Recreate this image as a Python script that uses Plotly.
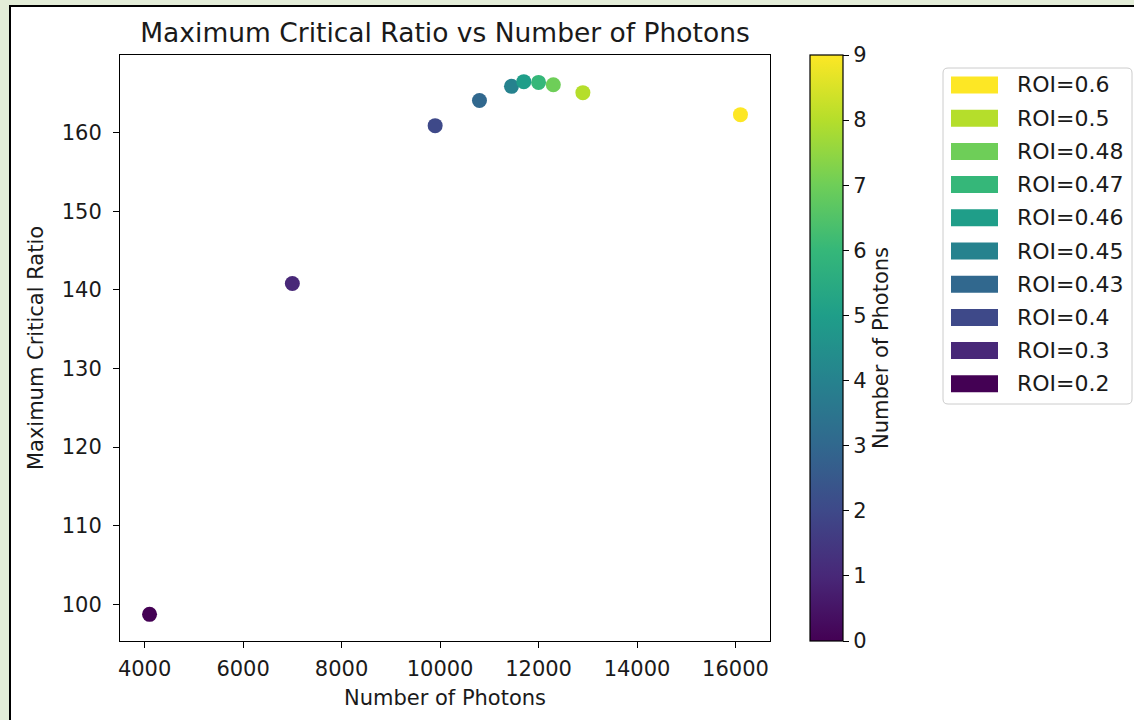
import plotly.graph_objects as go
import plotly.colors as pc

# ---- data ----
roi_labels = ["0.2", "0.3", "0.4", "0.43", "0.45", "0.46", "0.47", "0.48", "0.5", "0.6"]
photons = [4100, 7000, 9900, 10800, 11450, 11700, 12000, 12300, 12900, 16100]
max_ratio = [98.7, 140.8, 160.9, 164.1, 165.9, 166.5, 166.4, 166.1, 165.1, 162.3]
color_values = [0, 1, 2, 3, 4, 5, 6, 7, 8, 9]
x_ticks = [4000, 6000, 8000, 10000, 12000, 14000, 16000]
y_ticks = [100, 110, 120, 130, 140, 150, 160]
cbar_ticks = [0, 1, 2, 3, 4, 5, 6, 7, 8, 9]

W, H = 1134, 720
L, R, T, B = 120, 770, 55, 641
FONT = "DejaVu Sans"
TXT = "#1a1a1a"
FS = 21

def px(x):
    return (x - L) / (R - L)

def py(y):
    return (B - y) / (B - T)

def pad(vals, f=0.05):
    lo, hi = min(vals), max(vals)
    s = hi - lo
    return [lo - f * s, hi + f * s]

fig = go.Figure()
fig.add_trace(go.Scatter(
    x=photons, y=max_ratio, mode="markers", showlegend=False,
    marker=dict(
        size=15, color=color_values, colorscale="Viridis", cmin=0, cmax=9,
        line=dict(width=0),
        showscale=True,
        colorbar=dict(
            x=px(810), xanchor="left", xpad=0, ypad=0,
            y=0.5, yanchor="middle", len=1, lenmode="fraction",
            thickness=33, thicknessmode="pixels",
            outlinewidth=1.2, outlinecolor="black",
            tickvals=cbar_ticks, ticks="outside", ticklen=6, tickcolor="black",
            tickfont=dict(size=FS, color=TXT, family=FONT),
            title=dict(text="Number of Photons", side="right",
                       font=dict(size=FS, color=TXT, family=FONT)),
        ),
    ),
))

shapes = []
# outer frame (white panel with black border on a pale green page)
shapes.append(dict(type="rect", xref="paper", yref="paper", layer="below",
                   x0=px(10), x1=px(W + 20), y0=py(6), y1=py(H + 20),
                   fillcolor="white", line=dict(color="black", width=2)))

# manual legend (matplotlib-style patches)
viridis = pc.sample_colorscale("Viridis", [v / 9 for v in color_values])
bx0, bx1, by0, by1 = 943, 1132, 68, 404
r = 5
path = (f"M {px(bx0 + r)},{py(by0)} L {px(bx1 - r)},{py(by0)} Q {px(bx1)},{py(by0)} {px(bx1)},{py(by0 + r)} "
        f"L {px(bx1)},{py(by1 - r)} Q {px(bx1)},{py(by1)} {px(bx1 - r)},{py(by1)} "
        f"L {px(bx0 + r)},{py(by1)} Q {px(bx0)},{py(by1)} {px(bx0)},{py(by1 - r)} "
        f"L {px(bx0)},{py(by0 + r)} Q {px(bx0)},{py(by0)} {px(bx0 + r)},{py(by0)} Z")
shapes.append(dict(type="path", xref="paper", yref="paper", path=path,
                   fillcolor="rgba(255,255,255,0.8)", line=dict(color="#cccccc", width=1)))

annotations = []
n = len(roi_labels)
for k in range(n):
    i = n - 1 - k  # top entry is the last ROI
    cy = 85 + k * 33.2
    shapes.append(dict(type="rect", xref="paper", yref="paper",
                       x0=px(951), x1=px(998), y0=py(cy - 8.5), y1=py(cy + 8.5),
                       fillcolor=viridis[i], line=dict(width=0)))
    annotations.append(dict(xref="paper", yref="paper", x=px(1015), y=py(cy),
                            xanchor="left", yanchor="middle", showarrow=False,
                            text=f"ROI={roi_labels[i]}",
                            font=dict(size=22, color=TXT, family=FONT)))

axis_common = dict(showgrid=False, zeroline=False, showline=True, linecolor="black",
                   linewidth=1, mirror=True, ticks="outside", ticklen=6, tickcolor="black",
                   tickfont=dict(size=FS, color=TXT, family=FONT))

fig.update_layout(
    width=W, height=H,
    margin=dict(l=L, r=W - R, t=T, b=H - B, autoexpand=False),
    paper_bgcolor="#e3edd8", plot_bgcolor="white",
    font=dict(family=FONT, color=TXT),
    title=dict(text="Maximum Critical Ratio vs Number of Photons",
               x=(L + R) / 2 / W, xanchor="center", y=1 - 33 / H, yanchor="middle",
               font=dict(size=26.5, color=TXT, family=FONT)),
    xaxis=dict(range=pad(photons), tickvals=x_ticks, tickformat="d", ticklabelstandoff=3,
               title=dict(text="Number of Photons", font=dict(size=FS, color=TXT, family=FONT), standoff=10),
               **axis_common),
    yaxis=dict(range=pad(max_ratio), tickvals=y_ticks, tickformat="d", ticklabelstandoff=7,
               title=dict(text="Maximum Critical Ratio", font=dict(size=FS, color=TXT, family=FONT), standoff=12),
               **axis_common),
    shapes=shapes, annotations=annotations,
)

fig.write_html("out.html")
